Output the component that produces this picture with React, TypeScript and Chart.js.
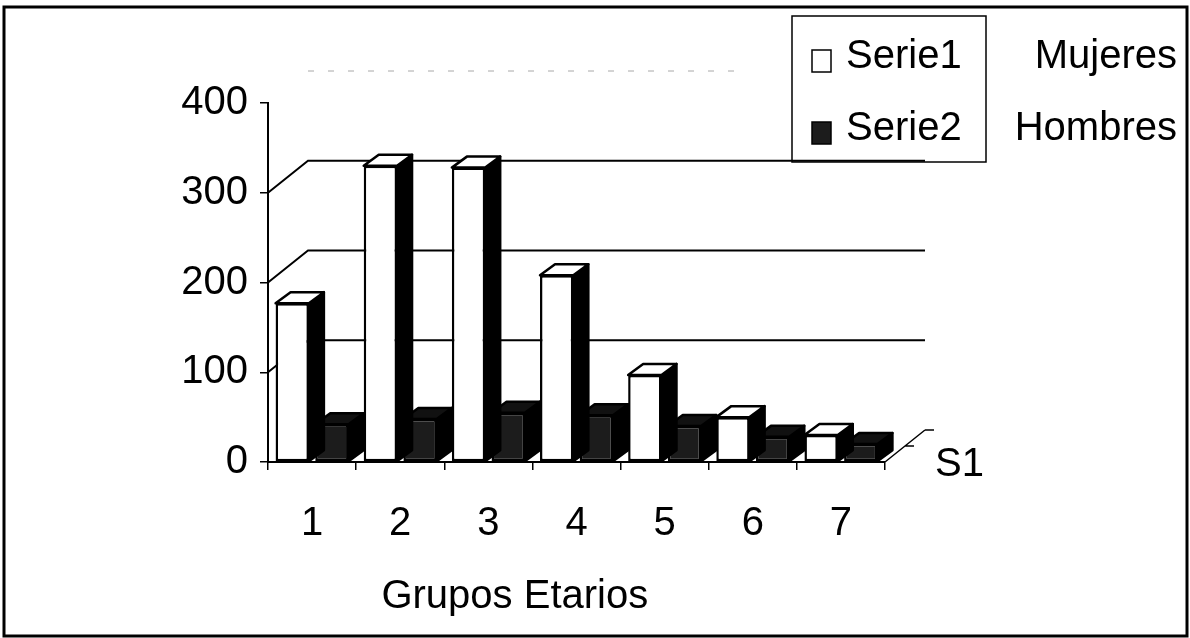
import React, { useEffect, useRef } from "react";
import { Chart, registerables } from "chart.js";

Chart.register(...registerables);

// ---- data ----
const categories = ["1", "2", "3", "4", "5", "6", "7"];
const serie1Values = [177, 330, 328, 208, 97, 50, 30];
const serie2Values = [42, 48, 55, 52, 40, 28, 20];
const seriesNames = ["Serie1", "Serie2"];
const seriesMeanings = ["Mujeres", "Hombres"];
const yTickValues = [0, 100, 200, 300, 400];
const gridValues = [100, 200, 300];
const xTitle = "Grupos Etarios";
const depthLabel = "S1";

// ---- styles ----
const FONT = "'Liberation Sans', Arial, Helvetica, sans-serif";
const frontColors = ["#ffffff", "#1c1c1c"];
const sideColors = ["#000000", "#000000"];
const topColors = ["#ffffff", "#111111"];
const DX = 15;
const DY = 11;
const WX = 40;
const WY = 32;

export default function App() {
  const ref = useRef<HTMLCanvasElement>(null);

  useEffect(() => {
    document.body.style.margin = "0";
    const canvas = ref.current!;

    const framePlugin = {
      id: "frame",
      afterDraw(chart: any) {
        const ctx = chart.ctx;
        ctx.save();
        ctx.lineWidth = 3;
        ctx.strokeStyle = "#000";
        ctx.strokeRect(4, 7, 1183, 629);
        ctx.restore();
      },
    };

    const wallPlugin = {
      id: "wall",
      beforeDatasetsDraw(chart: any) {
        const { ctx, chartArea, scales } = chart;
        const ys = scales.y;
        const L = chartArea.left;
        const R = chartArea.right;
        const B = chartArea.bottom;
        ctx.save();
        ctx.strokeStyle = "#000";
        ctx.lineWidth = 2;
        gridValues.forEach((v) => {
          const py = ys.getPixelForValue(v);
          ctx.beginPath();
          ctx.moveTo(L, py);
          ctx.lineTo(L + WX, py - WY);
          ctx.lineTo(R + WX, py - WY);
          ctx.stroke();
        });
        // faint top gridline
        const pTop = ys.getPixelForValue(yTickValues[yTickValues.length - 1]);
        ctx.strokeStyle = "#a8a8a8";
        ctx.lineWidth = 1;
        ctx.setLineDash([6, 14]);
        ctx.beginPath();
        ctx.moveTo(L + WX, pTop - WY);
        ctx.lineTo(R - 150, pTop - WY);
        ctx.stroke();
        ctx.setLineDash([]);
        // depth axis
        ctx.strokeStyle = "#000";
        ctx.lineWidth = 1.5;
        ctx.beginPath();
        ctx.moveTo(R, B);
        ctx.lineTo(R + WX, B - WY);
        ctx.moveTo(R + WX / 2, B - WY / 2);
        ctx.lineTo(R + WX / 2 + 9, B - WY / 2);
        ctx.moveTo(R + WX, B - WY);
        ctx.lineTo(R + WX + 9, B - WY);
        ctx.stroke();
        ctx.fillStyle = "#000";
        ctx.font = `40px ${FONT}`;
        ctx.textAlign = "left";
        ctx.textBaseline = "alphabetic";
        ctx.fillText(depthLabel, R + 50, B + 14);
        // x title
        ctx.textAlign = "center";
        ctx.fillText(xTitle, L + 0.4 * (R - L), 608);
        ctx.restore();
      },
    };

    const depthPlugin = {
      id: "depth3d",
      afterDatasetDraw(chart: any, args: any) {
        const ctx = chart.ctx;
        const i = args.index;
        ctx.save();
        ctx.lineWidth = 2.5;
        ctx.lineJoin = "round";
        ctx.strokeStyle = "#000";
        args.meta.data.forEach((bar: any) => {
          const { x, y, base, width } = bar.getProps(["x", "y", "base", "width"], true);
          const x0 = x - width / 2;
          const x1 = x + width / 2;
          // side face
          ctx.beginPath();
          ctx.moveTo(x1, y);
          ctx.lineTo(x1 + DX, y - DY);
          ctx.lineTo(x1 + DX, base - DY);
          ctx.lineTo(x1, base);
          ctx.closePath();
          ctx.fillStyle = sideColors[i];
          ctx.fill();
          ctx.stroke();
          // top face
          ctx.beginPath();
          ctx.moveTo(x0, y);
          ctx.lineTo(x0 + DX, y - DY);
          ctx.lineTo(x1 + DX, y - DY);
          ctx.lineTo(x1, y);
          ctx.closePath();
          ctx.fillStyle = topColors[i];
          ctx.fill();
          ctx.stroke();
        });
        ctx.restore();
      },
    };

    const legendPlugin = {
      id: "boxLegend",
      afterDraw(chart: any) {
        const ctx = chart.ctx;
        ctx.save();
        ctx.strokeStyle = "#000";
        ctx.lineWidth = 1.5;
        ctx.strokeRect(792, 16, 194, 146);
        ctx.font = `40px ${FONT}`;
        ctx.textBaseline = "alphabetic";
        chart.data.datasets.forEach((ds: any, i: number) => {
          const baseline = 68 + i * 72;
          ctx.fillStyle = ds.backgroundColor;
          ctx.fillRect(812, baseline - 18, 19, 22);
          ctx.lineWidth = 1.5;
          ctx.strokeRect(812, baseline - 18, 19, 22);
          ctx.fillStyle = "#000";
          ctx.textAlign = "left";
          ctx.fillText(ds.label, 846, baseline);
          ctx.textAlign = "right";
          ctx.fillText(seriesMeanings[i], 1177, baseline);
        });
        ctx.restore();
      },
    };

    const chart = new Chart(canvas, {
      type: "bar",
      data: {
        labels: categories,
        datasets: [
          {
            label: seriesNames[0],
            data: serie1Values,
            backgroundColor: frontColors[0],
            borderColor: "#000",
            borderWidth: 2.5,
            borderSkipped: false,
            categoryPercentage: 0.9,
            barPercentage: 0.84,
          },
          {
            label: seriesNames[1],
            data: serie2Values,
            backgroundColor: frontColors[1],
            borderColor: "#000",
            borderWidth: 2.5,
            borderSkipped: false,
            categoryPercentage: 0.9,
            barPercentage: 0.84,
          },
        ],
      },
      options: {
        responsive: false,
        animation: false,
        devicePixelRatio: 1,
        layout: { padding: { left: 168, right: 305, top: 103, bottom: 0 } },
        plugins: {
          legend: { display: false },
          tooltip: { enabled: false },
        },
        scales: {
          x: {
            grid: {
              drawOnChartArea: false,
              drawTicks: true,
              tickLength: 8,
              color: "#000",
              lineWidth: 1.5,
              offset: true,
            },
            border: { display: true, color: "#000", width: 2 },
            ticks: {
              color: "#000",
              font: { family: FONT, size: 40 },
              padding: 30,
              maxRotation: 0,
              autoSkip: false,
            },
            afterFit: (s: any) => {
              s.height = 176;
            },
          },
          y: {
            min: 0,
            max: 400,
            afterBuildTicks: (s: any) => {
              s.ticks = yTickValues.map((v) => ({ value: v }));
            },
            grid: {
              drawOnChartArea: false,
              drawTicks: true,
              tickLength: 8,
              color: "#000",
              lineWidth: 1.5,
            },
            border: { display: true, color: "#000", width: 2 },
            ticks: {
              color: "#000",
              font: { family: FONT, size: 40 },
              padding: 12,
            },
            afterFit: (s: any) => {
              s.width = 100;
            },
          },
        },
      },
      plugins: [wallPlugin, depthPlugin, legendPlugin, framePlugin],
    } as any);

    return () => chart.destroy();
  }, []);

  return (
    <div style={{ width: 1190, height: 638, background: "#fff" }}>
      <canvas ref={ref} width={1190} height={638} style={{ display: "block", width: 1190, height: 638 }} />
    </div>
  );
}
